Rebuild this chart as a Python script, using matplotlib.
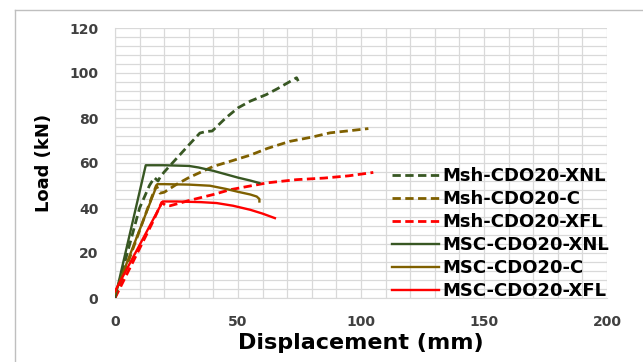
import matplotlib.pyplot as plt
from matplotlib.ticker import MultipleLocator

# Load-displacement curves (mm, kN)
msh_xnl_x = [0, 5, 10, 14, 16, 17.5, 18.5, 20, 25, 30, 34.5, 37, 39.5, 45, 50, 55, 61.5, 66, 70, 73.8, 74.5]
msh_xnl_y = [0, 20, 40, 50, 53.5, 52, 54, 56, 62, 68, 73.3, 74, 74.2, 80, 84.5, 87.5, 90.4, 93, 95.5, 97.9, 96.4]

msh_c_x = [0, 5, 10, 15, 16.8, 18.3, 20, 25, 30, 35, 40, 46.7, 55, 62, 71, 80, 87.4, 95, 103]
msh_c_y = [0, 15, 30, 45, 50, 46.6, 47, 50.5, 53.5, 56, 58.5, 60.7, 63.5, 66.5, 69.6, 71.5, 73.4, 74.3, 75.3]

msh_xfl_x = [0, 5, 10, 15, 19, 20.5, 22.4, 30, 40, 46.7, 55, 62, 73.8, 85, 95, 105]
msh_xfl_y = [0, 11, 22, 33, 42.5, 41.2, 41, 43.3, 46, 48.1, 49.8, 51.2, 52.6, 53.3, 54.3, 55.8]

msc_xnl_x = [0, 12.5, 20, 30, 34, 40, 45, 50, 55, 58.7]
msc_xnl_y = [0, 59, 59, 58.7, 58, 56.5, 55, 53.5, 52.2, 51.1]

msc_c_x = [0, 17.2, 20, 30, 38.6, 45, 50, 55, 57.6, 58.7, 58.7]
msc_c_y = [2, 50.6, 50.6, 50.4, 49.9, 48.5, 47.2, 46, 45.1, 44, 42.9]

msc_xfl_x = [0, 19.4, 25, 35, 41.3, 48, 55, 60, 65]
msc_xfl_y = [3, 42.9, 42.9, 42.6, 42.2, 41, 39.2, 37.5, 35.5]

series = [
    ("Msh-CDO20-XNL", msh_xnl_x, msh_xnl_y),
    ("Msh-CDO20-C", msh_c_x, msh_c_y),
    ("Msh-CDO20-XFL", msh_xfl_x, msh_xfl_y),
    ("MSC-CDO20-XNL", msc_xnl_x, msc_xnl_y),
    ("MSC-CDO20-C", msc_c_x, msc_c_y),
    ("MSC-CDO20-XFL", msc_xfl_x, msc_xfl_y),
]
colors = ["#385723", "#7f6000", "#ff0000"] * 2

fig = plt.figure(figsize=(6.43, 3.62), dpi=100)
ax = fig.add_axes([115 / 643, 1 - 298 / 362, (607 - 115) / 643, (298 - 28) / 362])

# Excel style chart border (top and left visible)
fig.add_artist(plt.Line2D([15 / 643, 1], [1 - 10 / 362] * 2, color="#bfbfbf", lw=1))
fig.add_artist(plt.Line2D([15 / 643] * 2, [0, 1 - 10 / 362], color="#bfbfbf", lw=1))

for i, (label, xs, ys) in enumerate(series):
    if i < 3:
        ax.plot(xs, ys, color=colors[i], lw=2.0, ls=(0, (3, 1.6)), label=label, zorder=3)
    else:
        ax.plot(xs, ys, color=colors[i], lw=1.7, ls="-", label=label, zorder=3)

ax.set_xlim(0, 200)
ax.set_ylim(0, 120)
ax.xaxis.set_major_locator(MultipleLocator(50))
ax.yaxis.set_major_locator(MultipleLocator(20))
ax.xaxis.set_minor_locator(MultipleLocator(10))
ax.yaxis.set_minor_locator(MultipleLocator(4))
ax.grid(which="both", color="#d9d9d9", lw=0.9)
ax.set_axisbelow(True)
ax.tick_params(which="both", length=0)
ax.tick_params(axis="x", pad=12)
ax.tick_params(axis="y", pad=12)
for lbl in ax.get_xticklabels() + ax.get_yticklabels():
    lbl.set_fontweight("bold")
    lbl.set_fontsize(10)
    lbl.set_color("#404040")
for side in ["top", "right"]:
    ax.spines[side].set_visible(False)
ax.spines["left"].set_color("#d9d9d9")
ax.spines["bottom"].set_color("#d9d9d9")

ax.set_xlabel("Displacement (mm)", fontsize=16, fontweight="bold", labelpad=3)
ax.set_ylabel("Load (kN)", fontsize=13, fontweight="bold", labelpad=12)

leg = ax.legend(loc="upper left", bbox_to_anchor=(270 / 492, (298 - 160) / 270),
                frameon=False, fontsize=13, handlelength=2.6, handletextpad=0.15,
                labelspacing=0.28, borderaxespad=0)
for t in leg.get_texts():
    t.set_fontweight("bold")

fig.savefig("out.png", dpi=100)
